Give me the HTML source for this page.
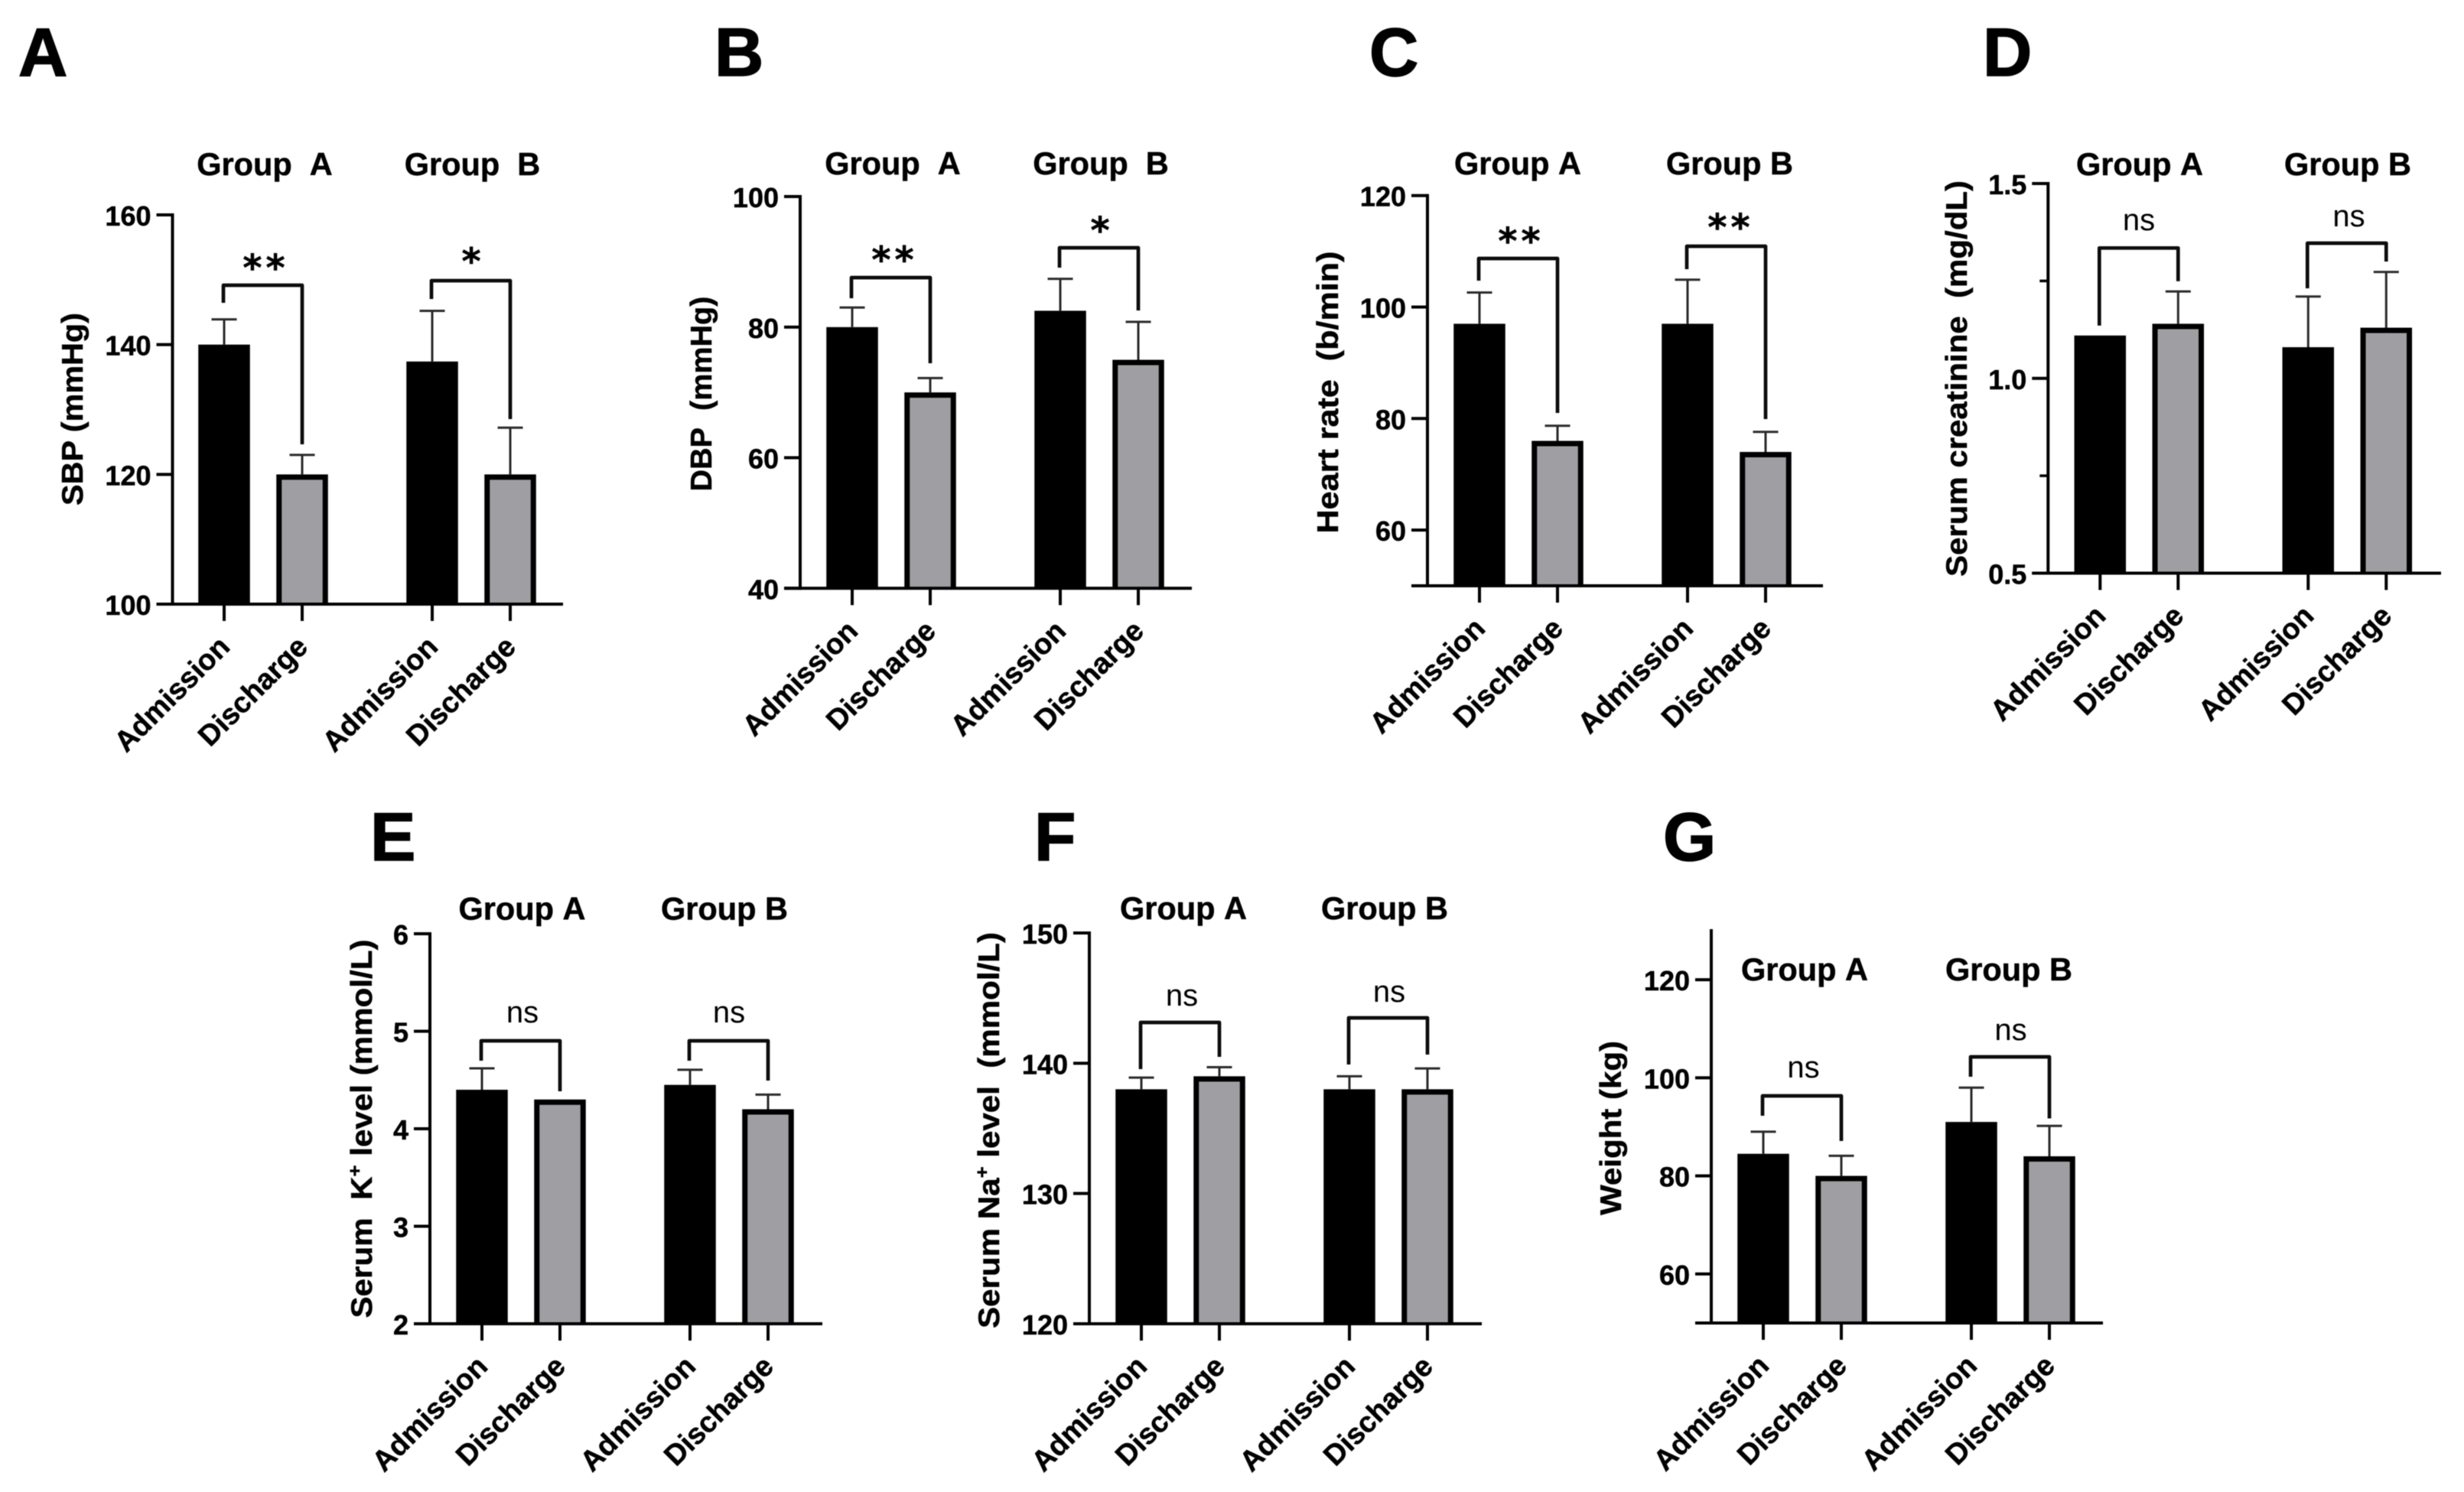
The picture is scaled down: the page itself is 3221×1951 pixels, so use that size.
<!DOCTYPE html>
<html lang="en">
<head>
<meta charset="utf-8">
<title>Clinical measurements at admission and discharge</title>
<style>
html,body{margin:0;padding:0;background:#fff;}
svg{display:block;filter:blur(0.5px);}
text{font-family:"Liberation Sans",Arial,sans-serif;fill:#000;}
text[font-weight="700"]{stroke:#000;stroke-width:.5px;}
</style>
</head>
<body>
<svg id="figure" xmlns="http://www.w3.org/2000/svg" width="3221" height="1951" viewBox="0 0 3221 1951"></svg>
<script>
// ---- data ----
const categories = ["Admission", "Discharge", "Admission", "Discharge"];
const groupNames = ["A", "B"];

const sbpTicks = [100, 120, 140, 160];
const sbpMeans = [140, 120, 137.4, 120];
const sbpErrors = [3.9, 3, 7.8, 7.2];

const dbpTicks = [40, 60, 80, 100];
const dbpMeans = [80, 70, 82.5, 75];
const dbpErrors = [3, 2.2, 4.9, 5.8];

const heartRateTicks = [60, 80, 100, 120];
const heartRateMeans = [97, 76, 97, 74];
const heartRateErrors = [5.6, 2.7, 7.9, 3.6];

const creatinineTicks = [0.5, 1.0, 1.5];
const creatinineMinorTicks = [0.75, 1.25];
const creatinineMeans = [1.11, 1.14, 1.08, 1.13];
const creatinineErrors = [0, 0.083, 0.13, 0.143];

const potassiumTicks = [2, 3, 4, 5, 6];
const potassiumMeans = [4.4, 4.3, 4.45, 4.2];
const potassiumErrors = [0.22, 0, 0.155, 0.15];

const sodiumTicks = [120, 130, 140, 150];
const sodiumMeans = [138, 139, 138, 138];
const sodiumErrors = [0.9, 0.7, 1.0, 1.6];

const weightTicks = [60, 80, 100, 120];
const weightMeans = [84.5, 80, 91, 84];
const weightErrors = [4.5, 4.1, 7, 6.2];

// ---- layout ----
const panels = [
  {id:'a', letter:'A', lx:24, ly:99, ticks:sbpTicks, means:sbpMeans, errors:sbpErrors, domain:[100,160], fmt:0,
   ax:225.5, top:281, bot:790, end:736, start:293,
   groupSep:'\u00a0\u00a0', gy:229, gx:[346,617.5],
   title:['SBP (mmHg)'], tx:108, tc:535, tl:252,
   sig:['**','*'], sx:[345,616], sy:[342,333.5],
   brk:[[373,396,581],[367,391,548]]},
  {id:'b', letter:'B', lx:934, ly:99, ticks:dbpTicks, means:dbpMeans, errors:dbpErrors, domain:[40,100], fmt:0,
   ax:1046, top:257, bot:769.3, end:1558, start:1114,
   groupSep:'\u00a0\u00a0', gy:228, gx:[1167,1439],
   title:['DBP\u00a0\u00a0(mmHg)'], tx:930, tc:515, tl:255,
   sig:['**','*'], sx:[1167,1438], sy:[331.7,293],
   brk:[[363,390,475],[324,350,406]]},
  {id:'c', letter:'C', lx:1790, ly:99, ticks:heartRateTicks, means:heartRateMeans, errors:heartRateErrors, domain:[50,120], fmt:0,
   ax:1866, top:255.7, bot:766, end:2383, start:1934,
   groupSep:'\u00a0', gy:228, gx:[1984,2261],
   title:['Heart rate\u00a0\u00a0(b/min)'], tx:1749, tc:513, tl:369,
   sig:['**','**'], sx:[1986,2260], sy:[307,289],
   brk:[[338,367,540],[322,352,548]]},
  {id:'d', letter:'D', lx:2592, ly:99, ticks:creatinineTicks, minor:creatinineMinorTicks, means:creatinineMeans, errors:creatinineErrors, domain:[0.5,1.5], fmt:1,
   ax:2677.3, top:240, bot:749.5, end:3191, start:2745.3,
   groupSep:'\u00a0', gy:229, gx:[2797,3069],
   title:['Serum creatinine\u00a0\u00a0(mg/dL)'], tx:2571, tc:495, tl:518,
   sig:['ns','ns'], sx:[2796,3070.5], sy:[289,284],
   brk:[[324.3,425.7,367.7],[318,377,342]]},
  {id:'e', letter:'E', lx:484, ly:1125, ticks:potassiumTicks, means:potassiumMeans, errors:potassiumErrors, domain:[2,6], fmt:0,
   ax:562, top:1221, bot:1731, end:1075, start:630,
   groupSep:'\u00a0', gy:1202.6, gx:[682.5,947],
   title:['Serum\u00a0\u00a0K','+',' level (mmol/L)'], tx:486, tc:1476, tl:495,
   sig:['ns','ns'], sx:[683,953], sy:[1325,1325],
   brk:[[1361,1387,1427],[1361,1387,1413]]},
  {id:'f', letter:'F', lx:1352, ly:1125, ticks:sodiumTicks, means:sodiumMeans, errors:sodiumErrors, domain:[120,150], fmt:0,
   ax:1424, top:1220, bot:1731, end:1937, start:1492,
   groupSep:'\u00a0', gy:1202, gx:[1547,1810],
   title:['Serum Na','+','\u00a0level\u00a0\u00a0(mmol/L)'], tx:1306, tc:1478, tl:518,
   sig:['ns','ns'], sx:[1545,1816], sy:[1303,1298],
   brk:[[1337,1398,1382],[1331,1392,1379]]},
  {id:'g', letter:'G', lx:2174, ly:1125, ticks:weightTicks, means:weightMeans, errors:weightErrors, domain:[50,130], fmt:0,
   ax:2237, top:1217, bot:1730, end:2749, start:2305,
   groupSep:'\u00a0', gy:1282, gx:[2359,2626],
   title:['Weight (kg)'], tx:2119, tc:1475, tl:228,
   sig:['ns','ns'], sx:[2357.5,2628.5], sy:[1397,1348],
   brk:[[1433,1459,1492],[1382,1408,1462.5]]}
];

const NS = 'http://www.w3.org/2000/svg';
const figure = document.getElementById('figure');
const BAR_W = 67.5, GRAY = '#9f9fa3', GAP = 68, STROKE = 7;

function node(parent, tag, props, txt) {
  const el = document.createElementNS(NS, tag);
  for (const k in props) el.setAttribute(k, props[k]);
  if (txt !== undefined) el.textContent = txt;
  parent.appendChild(el);
  return el;
}
function yScale(p, v) {
  return p.bot - (v - p.domain[0]) / (p.domain[1] - p.domain[0]) * (p.bot - p.top);
}
function xScale(p, i) {
  return p.start + i * 102 + (i >= 2 ? GAP : 0);
}

panels.forEach(function (p) {
  const g = node(figure, 'g', {});
  
  

  const letter = node(g, 'text', {x:p.lx, y:p.ly, 'font-size':89, 'font-weight':700, style:'stroke-width:1.5px'}, p.letter);
  
  

  // bars and error bars
  p.means.forEach(function (m, i) {
    const cx = xScale(p, i);
    const yv = yScale(p, m);
    const isDischarge = i % 2 === 1;
    const h = STROKE / 2;
    const left = cx - BAR_W / 2, right = cx + BAR_W / 2;
    const bar = node(g, 'path', isDischarge
      ? {d:'M' + (left + h) + ' ' + p.bot + 'V' + (yv + h) + 'H' + (right - h) + 'V' + p.bot, fill:GRAY, stroke:'#000', 'stroke-width':STROKE}
      : {d:'M' + left + ' ' + p.bot + 'V' + yv + 'H' + right + 'V' + p.bot + 'Z', fill:'#000'});
    
    

    const e = p.errors[i];
    if (e > 0) {
      const yt = yScale(p, m + e);
      const err = node(g, 'path', {d:'M' + cx + ' ' + yv + 'V' + yt + 'M' + (cx - 16.5) + ' ' + yt + 'H' + (cx + 16.5), fill:'none', stroke:'#2a2a2a', 'stroke-width':3});
      
      
    }

    const tick = node(g, 'line', {x1:cx, x2:cx, y1:p.bot, y2:p.bot + 22, stroke:'#000', 'stroke-width':4});
    
    

    const lx = cx + 9.5, ly = p.bot + 58;
    const lab = node(g, 'text', {x:lx, y:ly, 'font-size':38, 'font-weight':700, 'text-anchor':'end', transform:'rotate(-45 ' + lx + ' ' + ly + ')'}, categories[i]);
    
    
  });

  // axes
  const yAxis = node(g, 'line', {x1:p.ax, x2:p.ax, y1:p.top - 2, y2:p.bot + 2, stroke:'#000', 'stroke-width':4});
  
  
  const xAxis = node(g, 'line', {x1:p.ax - 21, x2:p.end, y1:p.bot, y2:p.bot, stroke:'#000', 'stroke-width':4});
  
  

  p.ticks.forEach(function (t) {
    const y = yScale(p, t);
    const tk = node(g, 'line', {x1:p.ax - 21, x2:p.ax, y1:y, y2:y, stroke:'#000', 'stroke-width':4});
    
    
    const tl = node(g, 'text', {x:p.ax - 28, y:y + 14, 'font-size':36, 'font-weight':700, 'text-anchor':'end'}, t.toFixed(p.fmt));
    
    
  });
  (p.minor || []).forEach(function (t) {
    const y = yScale(p, t);
    const mk = node(g, 'line', {x1:p.ax - 11, x2:p.ax, y1:y, y2:y, stroke:'#000', 'stroke-width':3.5});
    
    
  });

  // y title
  const tt = node(g, 'text', {x:p.tx, y:p.tc, 'font-size':39, 'font-weight':700, 'text-anchor':'middle', textLength:p.tl, lengthAdjust:'spacingAndGlyphs', transform:'rotate(-90 ' + p.tx + ' ' + p.tc + ')'});
  
  
  if (p.title.length === 1) {
    tt.textContent = p.title[0];
  } else {
    tt.appendChild(document.createTextNode(p.title[0]));
    node(tt, 'tspan', {dy:-14, 'font-size':24}, p.title[1]);
    node(tt, 'tspan', {dy:14}, p.title[2]);
  }

  // group headers, brackets, significance marks
  groupNames.forEach(function (name, k) {
    const h = node(g, 'text', {x:p.gx[k], y:p.gy, 'font-size':41.5, 'font-weight':700, 'text-anchor':'middle'}, 'Group' + p.groupSep + name);
    
    

    const x1 = xScale(p, k * 2) - 1, x2 = xScale(p, k * 2 + 1), b = p.brk[k];
    const br = node(g, 'path', {d:'M' + x1 + ' ' + b[1] + 'V' + b[0] + 'H' + x2 + 'V' + b[2], fill:'none', stroke:'#0c0c0c', 'stroke-width':4.7, 'stroke-linejoin':'round'});
    
    

    const s = p.sig[k];
    let mark;
    if (s === 'ns') {
      mark = node(g, 'text', {x:p.sx[k], y:p.sy[k] + 12, 'font-size':40, 'text-anchor':'middle'}, s);
    } else {
      mark = node(g, 'text', {x:p.sx[k] + 2.5, y:p.sy[k] + 25, 'font-size':48, 'font-weight':700, 'letter-spacing':5, 'text-anchor':'middle', style:'font-family:"DejaVu Sans",sans-serif'}, s);
    }
    
    
  });
});
</script>
</body>
</html>
